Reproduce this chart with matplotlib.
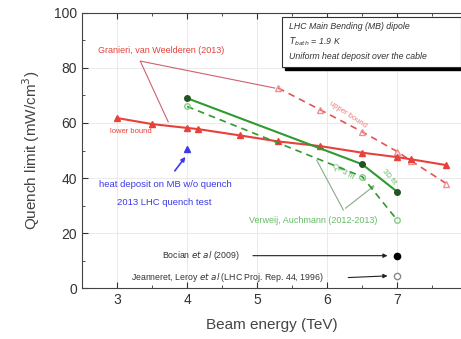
import matplotlib
matplotlib.use("Agg")
import matplotlib.pyplot as plt
from matplotlib.patches import Rectangle

plt.rcParams['font.family'] = ['Liberation Sans', 'DejaVu Sans']

# Granieri, van Weelderen (2013)
lower_x = [3.0, 3.5, 4.0, 4.15, 4.75, 5.3, 5.9, 6.5, 7.0, 7.2, 7.7]
lower_y = [61.8, 59.6, 58.2, 57.8, 55.5, 53.3, 51.6, 49.2, 47.6, 46.8, 44.7]
upper_x = [5.3, 5.9, 6.5, 7.0, 7.2, 7.7]
upper_y = [72.7, 64.8, 56.8, 49.6, 46.2, 38.0]

# Verweij, Auchmann (2012-2013)
verweij_x = [4.0, 6.5, 7.0]
verweij_solid_y = [69.0, 45.0, 35.0]
verweij_dash_y = [66.0, 40.5, 24.7]

# 2013 LHC quench test
test_x = [4.0]
test_y = [50.5]

# Bocian / Jeanneret
bocian_x = [7.0]
bocian_y = [11.8]
jeanneret_x = [7.0]
jeanneret_y = [4.5]

RED = '#e8403a'
PINK = '#ee7a7a'
GREEN = '#2f9a2f'
LGREEN = '#66bb66'
BLUE = '#3a3ae8'

fig = plt.figure(figsize=(4.61, 3.39), dpi=100)
ax = fig.add_axes([0.178, 0.150, 0.822, 0.812])

ax.set_xlim(2.5, 7.91)
ax.set_ylim(0, 100)
ax.set_xticks([3, 4, 5, 6, 7])
ax.set_xticks([2.5, 3.5, 4.5, 5.5, 6.5, 7.5], minor=True)
ax.set_yticks([0, 20, 40, 60, 80, 100])
ax.set_yticks([10, 30, 50, 70, 90], minor=True)
ax.tick_params(which='both', direction='in', top=True, right=False, labelsize=10, colors='#333333')
ax.tick_params(which='major', length=4)
ax.tick_params(which='minor', length=2.5)
ax.grid(True, which='major', color='#e6e6e6', linewidth=0.6)
ax.set_axisbelow(True)
for s in ['left', 'bottom', 'top']:
    ax.spines[s].set_color('#444444')
ax.spines['right'].set_visible(False)

ax.set_xlabel('Beam energy (TeV)', fontsize=11, color='#444444', labelpad=8)
ax.set_ylabel('Quench limit (mW/cm$^3$)', fontsize=11, color='#444444', labelpad=9)

# Red lines
ax.plot(lower_x, lower_y, '-', color=RED, lw=1.5, marker='^', ms=4.5, mfc=RED, mec=RED, zorder=4)
ax.plot(upper_x, upper_y, '--', color='#e05555', lw=1.2, dashes=(4, 3), marker='^', ms=4, mfc='none', mec='#f09090', zorder=3)

# Green lines
ax.plot(verweij_x, verweij_solid_y, '-', color=GREEN, lw=1.5, marker='o', ms=4, mfc='#225522', mec='#225522', zorder=5)
ax.plot(verweij_x, verweij_dash_y, '--', color=GREEN, lw=1.2, dashes=(4, 3), marker='o', ms=4, mfc='none', mec='#88cc88', zorder=5)

# Blue point
ax.plot(test_x, test_y, '^', color=BLUE, ms=5, zorder=6)
ax.annotate('', xy=(4.0, 48.5), xytext=(3.8, 41.8),
            arrowprops=dict(arrowstyle='-|>', color=BLUE, lw=1.2, mutation_scale=6))
ax.text(3.69, 37.5, 'heat deposit on MB w/o quench', color=BLUE, fontsize=6.8, ha='center', va='center')
ax.text(3.67, 31.0, '2013 LHC quench test', color=BLUE, fontsize=6.8, ha='center', va='center')

# Black points
ax.plot(bocian_x, bocian_y, 'o', color='black', ms=4.5, zorder=6)
ax.plot(jeanneret_x, jeanneret_y, 'o', mfc='white', mec='#888888', ms=4.5, zorder=6)
ax.text(4.2, 11.8, 'Bocian $et\\ al$ (2009)', fontsize=6.3, ha='center', va='center', color='#333333')
ax.annotate('', xy=(6.9, 11.8), xytext=(4.9, 11.8),
            arrowprops=dict(arrowstyle='-|>', color='#222222', lw=0.8, mutation_scale=6))
ax.text(4.58, 3.8, 'Jeanneret, Leroy $et\\ al$ (LHC Proj. Rep. 44, 1996)', fontsize=6.3, ha='center', va='center', color='#333333')
ax.annotate('', xy=(6.9, 4.5), xytext=(6.26, 3.8),
            arrowprops=dict(arrowstyle='-|>', color='#222222', lw=0.8, mutation_scale=6))

# Granieri annotations
ax.text(3.63, 86.5, 'Granieri, van Weelderen (2013)', color=RED, fontsize=6.5, ha='center', va='center')
ax.plot([5.25, 3.33, 3.73], [72.7, 82.5, 60.4], '-', color='#d06070', lw=0.8, zorder=2)
ax.text(3.2, 57.0, 'lower bound', color=RED, fontsize=5.5, ha='center', va='center')
ax.text(6.3, 63.0, 'upper bound', color=PINK, fontsize=5.5, ha='center', va='center', rotation=-33)

# Verweij annotations
ax.text(5.8, 24.7, 'Verweij, Auchmann (2012-2013)', color=LGREEN, fontsize=6.5, ha='center', va='center')
ax.plot([5.85, 6.23], [46.5, 28.4], '-', color='#88aa88', lw=0.8)
ax.annotate('', xy=(6.71, 38.0), xytext=(6.23, 28.4),
            arrowprops=dict(arrowstyle='-|>', color='#88aa88', lw=0.8, mutation_scale=6))
ax.text(6.22, 42.3, 'QP3 fit', color=LGREEN, fontsize=5.5, ha='center', va='center', rotation=-30)
ax.text(6.88, 40.5, '3D fit', color=LGREEN, fontsize=5.5, ha='center', va='center', rotation=-50)

# Info box with shadow
ax.add_patch(Rectangle((5.40, 79.3), 2.55, 18.0, facecolor='black', edgecolor='black', zorder=7, clip_on=False))
ax.add_patch(Rectangle((5.36, 80.5), 2.55, 18.0, facecolor='white', edgecolor='#333333', lw=0.8, zorder=8, clip_on=False))
ax.text(5.45, 95.0, 'LHC Main Bending (MB) dipole', fontsize=6.3, style='italic', color='#333333', zorder=9, va='center')
ax.text(5.45, 89.5, '$T_{bath}$ = 1.9 K', fontsize=6.3, style='italic', color='#333333', zorder=9, va='center')
ax.text(5.45, 84.0, 'Uniform heat deposit over the cable', fontsize=6.3, style='italic', color='#333333', zorder=9, va='center')

fig.savefig('out.png', dpi=100)
